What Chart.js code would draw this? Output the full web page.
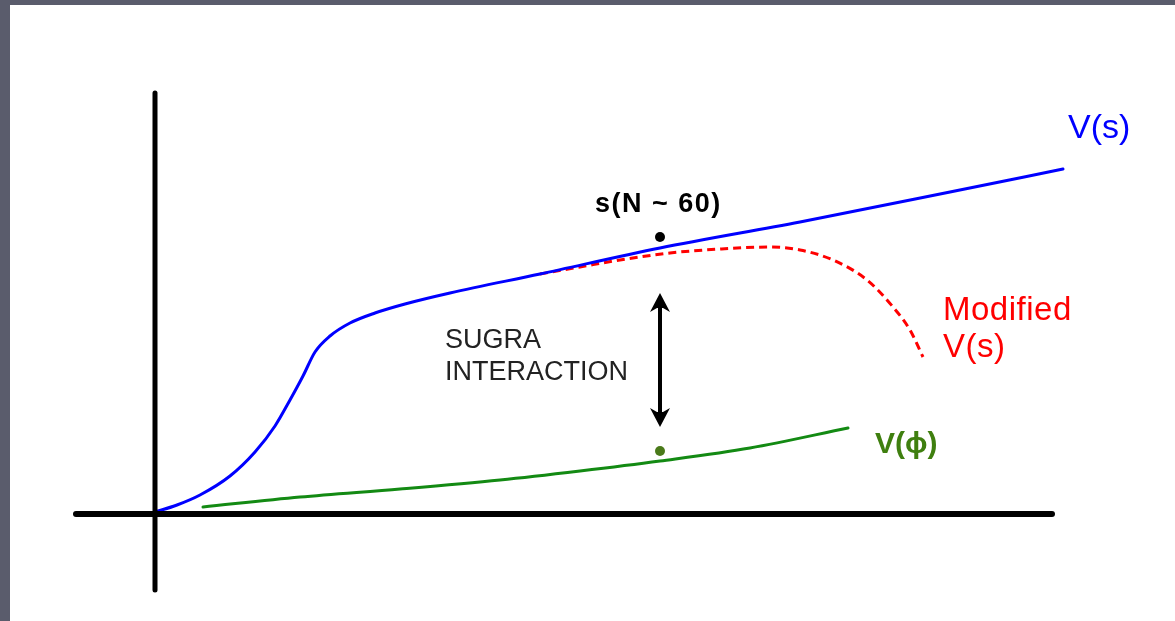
<!DOCTYPE html>
<html>
<head>
<meta charset="utf-8">
<script src="https://cdn.jsdelivr.net/npm/chart.js@4.4.1/dist/chart.umd.min.js"></script>
<style>
  html, body { margin: 0; padding: 0; background: #5a5c6c; }
  #wrap { position: absolute; left: 10px; top: 5px; width: 1165px; height: 616px; background: #fff; }
</style>
</head>
<body>
<div id="wrap"><canvas id="chart" width="1165" height="616"></canvas></div>
<script>
// all values, origin at the axes crossing
let vsX = [0, 22, 45, 75, 100, 120, 135, 148, 160, 175, 195, 220, 250, 295, 385, 505, 645, 795, 908];
let vsY = [2, 9, 19, 38, 62, 88, 114, 138, 162, 178, 191, 201, 210, 221, 240, 266, 292, 322, 345];

let modX = [385, 425, 465, 515, 565, 615, 645, 678, 712, 738, 755, 768];
let modY = [240, 247, 254, 261, 265, 267, 264, 254, 234, 207, 184, 157];

let phiX = [48, 145, 245, 345, 425, 505, 595, 693];
let phiY = [7, 17, 25, 34, 43, 53, 66, 86];

let axisX = [-79, 897];   // horizontal axis extent
let axisY = [-76, 421];   // vertical axis extent

let sPoint = { x: 505, y: 277 };
let phiPoint = { x: 505, y: 63 };
let arrow = { x: 505, y1: 221, y2: 87 };

let labels = [
    { text: "V(s)", x: 913, y: 376, color: "#0000ff", font: "34px 'Liberation Sans'", gap: "0px" },
    { text: "s(N ~ 60)", x: 440, y: 302, color: "#000", font: "bold 27px 'Liberation Sans'", gap: "1.5px" },
    { text: "SUGRA", x: 290, y: 166, color: "#222", font: "27px 'Liberation Sans'", gap: "0px" },
    { text: "INTERACTION", x: 290, y: 134, color: "#222", font: "27px 'Liberation Sans'", gap: "0px" },
    { text: "Modified", x: 788, y: 194, color: "#ff0000", font: "33px 'Liberation Sans'", gap: "0.5px" },
    { text: "V(s)", x: 788, y: 157, color: "#ff0000", font: "33px 'Liberation Sans'", gap: "0.5px" },
    { text: "V(\u03d5)", x: 720, y: 61, color: "#3f7f0f", font: "bold 30px 'Liberation Sans'", gap: "0px" }
];

function pts(xs, ys) {
    return xs.map((x, i) => ({ x: x, y: ys[i] }));
}

// arrow + text labels, placed through the chart scales
const extras = {
    id: "extras",
    afterDatasetsDraw(chart) {
        let ctx = chart.ctx;
        let sx = chart.scales.x, sy = chart.scales.y;
        ctx.save();

        let ax = sx.getPixelForValue(arrow.x);
        let top = sy.getPixelForValue(arrow.y1);
        let bot = sy.getPixelForValue(arrow.y2);
        ctx.strokeStyle = "#000";
        ctx.fillStyle = "#000";
        ctx.lineWidth = 4;
        ctx.beginPath();
        ctx.moveTo(ax, top + 6);
        ctx.lineTo(ax, bot - 6);
        ctx.stroke();
        [[top, 1], [bot, -1]].forEach(([tip, d]) => {
            ctx.beginPath();
            ctx.moveTo(ax, tip);
            ctx.lineTo(ax + 10, tip + d * 19);
            ctx.lineTo(ax + 3, tip + d * 15);
            ctx.lineTo(ax - 3, tip + d * 15);
            ctx.lineTo(ax - 10, tip + d * 19);
            ctx.closePath();
            ctx.fill();
        });

        ctx.textBaseline = "alphabetic";
        labels.forEach(l => {
            ctx.font = l.font;
            ctx.letterSpacing = l.gap;
            ctx.fillStyle = l.color;
            ctx.fillText(l.text, sx.getPixelForValue(l.x), sy.getPixelForValue(l.y));
        });
        ctx.restore();
    }
};

new Chart(document.getElementById("chart"), {
    type: "scatter",
    data: {
        datasets: [
            {
                data: pts(axisX, [0, 0]),
                showLine: true, borderColor: "#000", borderWidth: 6,
                borderCapStyle: "round", pointRadius: 0
            },
            {
                data: pts([0, 0], axisY),
                showLine: true, borderColor: "#000", borderWidth: 5,
                borderCapStyle: "round", pointRadius: 0
            },
            {
                label: "V(s)",
                data: pts(vsX, vsY),
                showLine: true, borderColor: "#0000ff", borderWidth: 3,
                cubicInterpolationMode: "monotone", pointRadius: 0, borderCapStyle: "round"
            },
            {
                label: "Modified V(s)",
                data: pts(modX, modY),
                showLine: true, borderColor: "#ff0000", borderWidth: 3,
                borderDash: [8, 5], cubicInterpolationMode: "monotone", pointRadius: 0
            },
            {
                label: "V(phi)",
                data: pts(phiX, phiY),
                showLine: true, borderColor: "#138a13", borderWidth: 3,
                cubicInterpolationMode: "monotone", pointRadius: 0, borderCapStyle: "round"
            },
            {
                data: [sPoint],
                pointRadius: 5, pointBackgroundColor: "#000", pointBorderWidth: 0
            },
            {
                data: [phiPoint],
                pointRadius: 5, pointBackgroundColor: "#4a7a1a", pointBorderWidth: 0
            }
        ]
    },
    options: {
        responsive: false,
        animation: false,
        events: [],
        layout: { padding: 0, autoPadding: false },
        plugins: { legend: { display: false }, tooltip: { enabled: false } },
        scales: {
            x: { type: "linear", min: -145, max: 1020, display: false },
            y: { type: "linear", min: -107, max: 509, display: false }
        }
    },
    plugins: [extras]
});
</script>
</body>
</html>
